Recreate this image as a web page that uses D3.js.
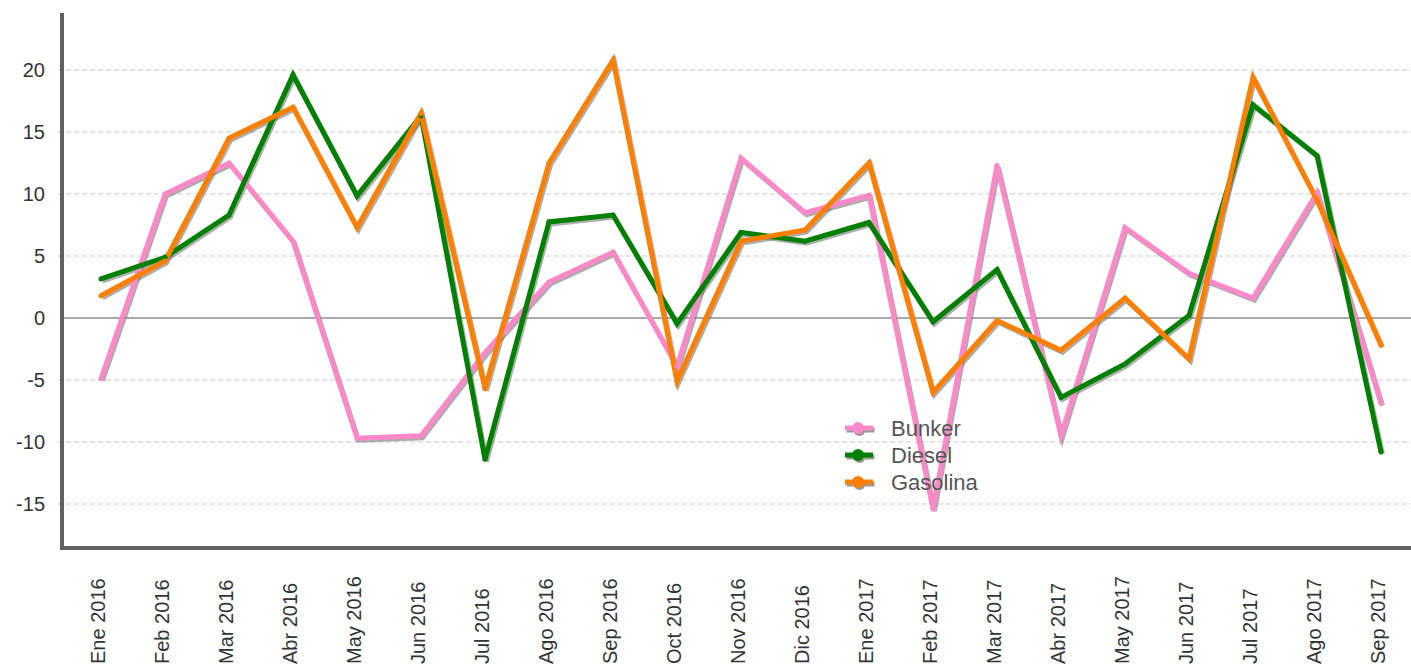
<!DOCTYPE html>
<html>
<head>
<meta charset="utf-8">
<script src="https://cdn.jsdelivr.net/npm/d3@7"></script>
<style>
  body { margin: 0; background: #fff; }
  text { font-family: "Liberation Sans", Arial, sans-serif; }
</style>
</head>
<body>
<div id="chart"></div>
<script>
// months on the x axis
var months = ["Ene 2016","Feb 2016","Mar 2016","Abr 2016","May 2016","Jun 2016","Jul 2016",
  "Ago 2016","Sep 2016","Oct 2016","Nov 2016","Dic 2016","Ene 2017","Feb 2017","Mar 2017",
  "Abr 2017","May 2017","Jun 2017","Jul 2017","Ago 2017","Sep 2017"]

// series values
var bunker = [-4.9, 10.0, 12.5, 6.2, -9.7, -9.5, -2.8, 2.9, 5.3, -3.9, 12.9, 8.5, 9.9, -15.4, 12.3, -9.5, 7.3, 3.6, 1.6, 10.1, -6.9]
var diesel = [3.15, 4.9, 8.3, 19.6, 9.85, 16.3, -11.4, 7.75, 8.3, -0.45, 6.9, 6.2, 7.7, -0.3, 3.9, -6.4, -3.7, 0.2, 17.2, 13.1, -10.8]
var gasolina = [1.8, 4.6, 14.5, 17.0, 7.3, 16.5, -5.7, 12.5, 20.8, -5.1, 6.2, 7.1, 12.5, -6.0, -0.2, -2.6, 1.6, -3.3, 19.4, 9.5, -2.2]

var seriesNames = ["Bunker","Diesel","Gasolina"]
var seriesColors = ["#ff88c8","#008000","#ff8000"]
var yTicks = [-15,-10,-5,0,5,10,15,20]

var width = 1411
var height = 667

var svg = d3.select("#chart")
  .append("svg")
    .attr("width", width)
    .attr("height", height);

var x = d3.scalePoint()
  .domain(months)
  .range([101, 1381]);

var y = d3.scaleLinear()
  .domain([-18.55, 24.6])
  .range([548, 13]);

// gridlines
svg.append("g")
  .selectAll("line")
  .data(yTicks.filter(d => d != 0))
  .enter()
  .append("line")
    .attr("x1", 58)
    .attr("x2", width)
    .attr("y1", d => y(d))
    .attr("y2", d => y(d))
    .attr("stroke", "#cccccc")
    .attr("stroke-width", 1)
    .attr("stroke-dasharray", "5,3");

// zero line
svg.append("line")
  .attr("x1", 62).attr("x2", width)
  .attr("y1", y(0)).attr("y2", y(0))
  .attr("stroke", "#555")
  .attr("stroke-width", 1);

// y labels
svg.append("g")
  .selectAll("text")
  .data(yTicks)
  .enter()
  .append("text")
    .attr("x", 45)
    .attr("y", d => y(d))
    .attr("dy", "0.35em")
    .attr("text-anchor", "end")
    .attr("font-size", 20)
    .attr("fill", "#333")
    .text(d => d);

// x labels, rotated
svg.append("g")
  .selectAll("text")
  .data(months)
  .enter()
  .append("text")
    .attr("transform", d => "translate(" + (x(d) + 4) + ",664) rotate(-90)")
    .attr("text-anchor", "start")
    .attr("font-size", 20)
    .attr("fill", "#333")
    .text(d => d);

var allSeries = [bunker, diesel, gasolina]
var line = d3.line()
  .x((d, i) => x(months[i]))
  .y(d => y(d));

// shadows first
allSeries.forEach(function(s) {
  svg.append("path")
    .attr("d", line(s))
    .attr("transform", "translate(1.5,2)")
    .attr("fill", "none")
    .attr("stroke", "#777")
    .attr("stroke-opacity", 0.6)
    .attr("stroke-width", 5)
    .attr("stroke-linejoin", "miter");
})

allSeries.forEach(function(s, k) {
  svg.append("path")
    .attr("d", line(s))
    .attr("fill", "none")
    .attr("stroke", seriesColors[k])
    .attr("stroke-width", 5)
    .attr("stroke-linejoin", "miter");
})

// small markers on top
allSeries.forEach(function(s, k) {
  svg.append("g")
    .selectAll("circle")
    .data(s)
    .enter()
    .append("circle")
      .attr("cx", (d, i) => x(months[i]))
      .attr("cy", d => y(d))
      .attr("r", 2.5)
      .attr("fill", seriesColors[k]);
})

// axes (thick gray)
svg.append("line")
  .attr("x1", 62).attr("x2", 62)
  .attr("y1", 13).attr("y2", 550)
  .attr("stroke", "#606060")
  .attr("stroke-width", 4);
svg.append("line")
  .attr("x1", 60).attr("x2", width)
  .attr("y1", 548).attr("y2", 548)
  .attr("stroke", "#606060")
  .attr("stroke-width", 4);

// legend
var legend = svg.append("g")
  .selectAll("g")
  .data(seriesNames)
  .enter()
  .append("g")
    .attr("transform", (d, i) => "translate(845," + (428 + i * 27) + ")");

legend.append("line")
  .attr("x1", 1.5).attr("x2", 29.5).attr("y1", 2).attr("y2", 2)
  .attr("stroke", "#999")
  .attr("stroke-width", 5);
legend.append("circle")
  .attr("cx", 14.5).attr("cy", 2).attr("r", 6)
  .attr("fill", "#999");
legend.append("line")
  .attr("x1", 0).attr("x2", 28).attr("y1", 0).attr("y2", 0)
  .attr("stroke", (d, i) => seriesColors[i])
  .attr("stroke-width", 5);
legend.append("circle")
  .attr("cx", 13).attr("cy", 0).attr("r", 6)
  .attr("fill", (d, i) => seriesColors[i]);
legend.append("text")
  .attr("x", 46)
  .attr("y", 0)
  .attr("dy", "0.35em")
  .attr("font-size", 22)
  .attr("fill", "#555")
  .text(d => d);
</script>
</body>
</html>
